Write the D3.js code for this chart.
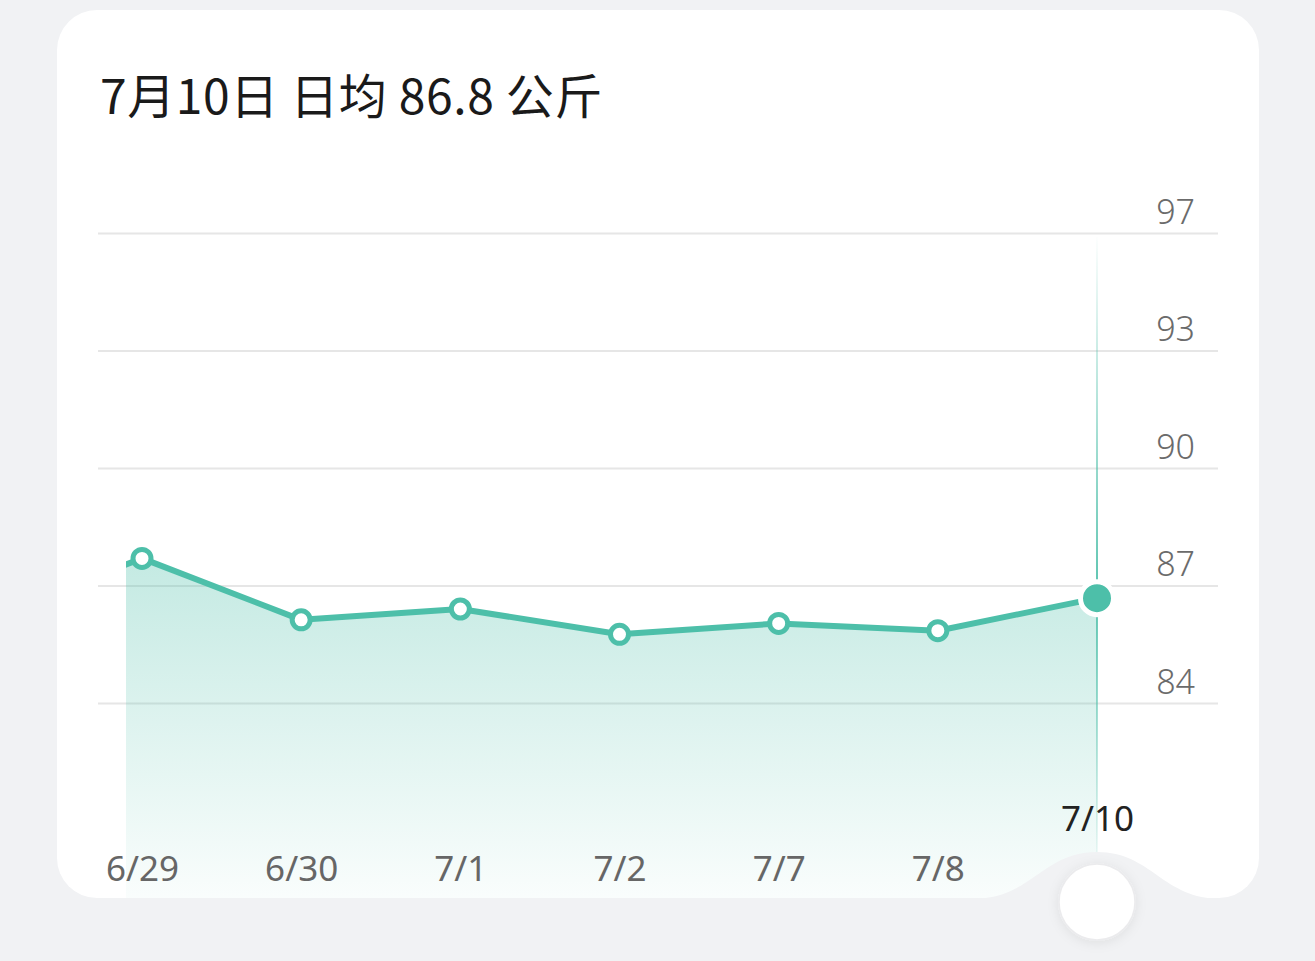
<!DOCTYPE html>
<html>
<head>
<meta charset="utf-8">
<script src="https://cdn.jsdelivr.net/npm/d3@7"></script>
<style>
  html, body { margin: 0; padding: 0; background: #f1f2f4; }
  svg { display: block; }
</style>
</head>
<body>
<div id="chart"></div>
<script>
// data (6/28 sits just off the left edge, only its line shows)
const dates = ["6/28", "6/29", "6/30", "7/1", "7/2", "7/7", "7/8", "7/10"];
const weights = [86.3, 88.0, 86.3, 86.6, 85.9, 86.2, 86.0, 86.9];
const yTickValues = [84, 87.25, 90.5, 93.75, 97];
const yTickLabels = ["84", "87", "90", "93", "97"];
const titleText = "7月10日 日均 86.8 公斤";

const W = 1315, H = 961;
const teal = "#4dbfa9";
const card = { x: 57, y: 10, w: 1202, h: 888, r: 40 };
const plot = { left: 126, right: 1097, top: 233, bottom: 703 };
const gridLeft = 98, gridRight = 1218;

const svg = d3.select("#chart").append("svg")
    .attr("width", W)
    .attr("height", H);

const defs = svg.append("defs");

let areaGrad = defs.append("linearGradient")
    .attr("id", "areaGrad")
    .attr("gradientUnits", "userSpaceOnUse")
    .attr("x1", 0).attr("x2", 0).attr("y1", 550).attr("y2", card.y + card.h);
areaGrad.append("stop").attr("offset", 0).attr("stop-color", teal).attr("stop-opacity", 0.34);
areaGrad.append("stop").attr("offset", 1).attr("stop-color", teal).attr("stop-opacity", 0.03);

let vGrad = defs.append("linearGradient")
    .attr("id", "vGrad")
    .attr("gradientUnits", "userSpaceOnUse")
    .attr("x1", 0).attr("x2", 0).attr("y1", plot.top).attr("y2", 880);
vGrad.append("stop").attr("offset", 0).attr("stop-color", teal).attr("stop-opacity", 0);
vGrad.append("stop").attr("offset", 0.55).attr("stop-color", teal).attr("stop-opacity", 0.9);
vGrad.append("stop").attr("offset", 0.75).attr("stop-color", teal).attr("stop-opacity", 0.5);
vGrad.append("stop").attr("offset", 1).attr("stop-color", teal).attr("stop-opacity", 0);

let shadow = defs.append("filter").attr("id", "knobShadow")
    .attr("x", "-50%").attr("y", "-50%").attr("width", "200%").attr("height", "200%");
shadow.append("feDropShadow")
    .attr("dx", 0).attr("dy", 2).attr("stdDeviation", 6)
    .attr("flood-color", "#000").attr("flood-opacity", 0.08);

defs.append("clipPath").attr("id", "plotClip")
    .append("rect")
    .attr("x", plot.left).attr("y", 0)
    .attr("width", card.x + card.w - plot.left).attr("height", card.y + card.h);

// card
svg.append("rect")
    .attr("x", card.x).attr("y", card.y)
    .attr("width", card.w).attr("height", card.h)
    .attr("rx", card.r).attr("ry", card.r)
    .attr("fill", "#fff");

// title
svg.append("text")
    .attr("x", 100).attr("y", 114)
    .attr("font-family", "'Noto Sans CJK SC', 'Noto Sans', sans-serif")
    .attr("font-size", 48)
    .attr("font-weight", 400)
    .attr("letter-spacing", 0.6)
    .attr("fill", "#1a1a1a")
    .text(titleText);

// scales
const step = (plot.right - 142) / (dates.length - 2);
const x = d3.scalePoint()
    .domain(dates)
    .range([142 - step, plot.right]);

const y = d3.scaleLinear()
    .domain([yTickValues[0], yTickValues[yTickValues.length - 1]])
    .range([plot.bottom, plot.top]);

// y grid + labels
let yAxis = d3.axisLeft(y)
    .tickValues(yTickValues)
    .tickSize(gridRight - gridLeft)
    .tickFormat((d, i) => yTickLabels[i]);

let yG = svg.append("g")
    .attr("transform", "translate(" + gridRight + ",0)")
    .call(yAxis)
    .call(g => g.select(".domain").remove());
yG.selectAll(".tick line").attr("stroke", "#e6e6e6").attr("stroke-width", 2);
yG.selectAll(".tick text")
    .attr("x", -23).attr("y", -10).attr("dy", 0)
    .attr("text-anchor", "end")
    .style("font-family", "'Noto Sans', sans-serif")
    .style("font-size", "34px")
    .style("font-weight", 300)
    .attr("fill", "#6b6b6b");

// area + line
const last = dates.length - 1;
let area = d3.area()
    .x((d, i) => x(dates[i]))
    .y0(card.y + card.h)
    .y1(d => y(d));
let line = d3.line()
    .x((d, i) => x(dates[i]))
    .y(d => y(d));

let plotG = svg.append("g").attr("clip-path", "url(#plotClip)");
plotG.append("path")
    .datum(weights)
    .attr("d", area)
    .attr("fill", "url(#areaGrad)");

// vertical marker at the selected day
svg.append("rect")
    .attr("x", x(dates[last]) - 1).attr("y", plot.top + 4)
    .attr("width", 2).attr("height", 880 - plot.top - 4)
    .attr("fill", "url(#vGrad)");

plotG.append("path")
    .datum(weights)
    .attr("d", line)
    .attr("fill", "none")
    .attr("stroke", teal)
    .attr("stroke-width", 6)
    .attr("stroke-linejoin", "round");

// points
svg.append("g").selectAll("circle")
    .data(weights.slice(1, last))
    .enter()
        .append("circle")
        .attr("cx", (d, i) => x(dates[i + 1]))
        .attr("cy", d => y(d))
        .attr("r", 9)
        .attr("fill", "#fff")
        .attr("stroke", teal)
        .attr("stroke-width", 5);

svg.append("circle")
    .attr("cx", x(dates[last]))
    .attr("cy", y(weights[last]))
    .attr("r", 16.5)
    .attr("fill", teal)
    .attr("stroke", "#fff")
    .attr("stroke-width", 5);

// x labels
let xAxis = d3.axisBottom(x)
    .tickValues(dates.slice(1))
    .tickSize(0)
    .tickPadding(0);

let xG = svg.append("g")
    .attr("transform", "translate(0,0)")
    .call(xAxis)
    .call(g => g.select(".domain").remove());
xG.selectAll(".tick text")
    .attr("y", 881).attr("dy", 0)
    .style("font-family", "'Noto Sans', sans-serif")
    .style("font-size", "35px")
    .attr("fill", "#666");
xG.selectAll(".tick text")
    .filter(d => d === dates[last])
    .attr("y", 831)
    .attr("fill", "#222");

// notch under the selected day + knob
const cx = x(dates[last]), bottom = card.y + card.h;
let notch = d3.path();
notch.moveTo(cx - 125, bottom + 1);
notch.bezierCurveTo(cx - 65, bottom + 1, cx - 55, 852, cx, 852);
notch.bezierCurveTo(cx + 55, 852, cx + 65, bottom + 1, cx + 125, bottom + 1);
notch.closePath();
svg.append("path")
    .attr("d", notch.toString())
    .attr("fill", "#f1f2f4");

svg.append("circle")
    .attr("cx", cx).attr("cy", 902)
    .attr("r", 38)
    .attr("fill", "#fff")
    .attr("stroke", "#ebebed")
    .attr("stroke-width", 1.5)
    .attr("filter", "url(#knobShadow)");
</script>
</body>
</html>
